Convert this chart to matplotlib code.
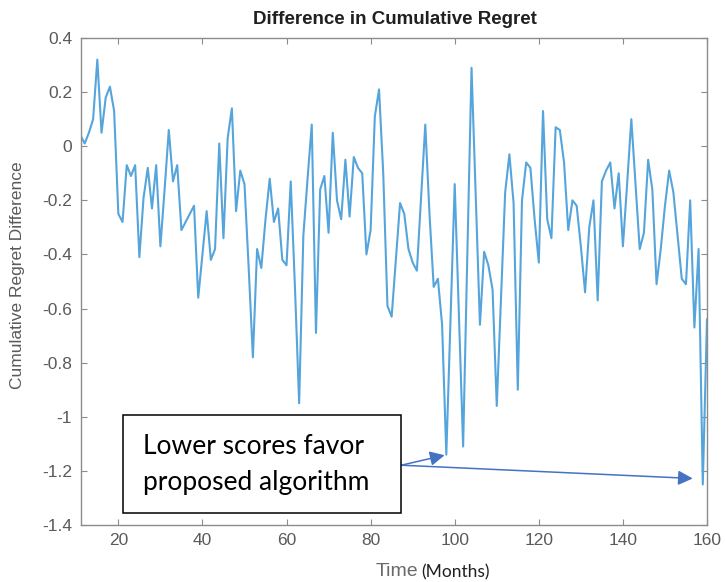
import matplotlib
matplotlib.use("Agg")
import matplotlib.pyplot as plt
from matplotlib.patches import Rectangle

# ---- data ----
months = list(range(11, 161))
regret_diff = [
    0.04, 0.01, 0.05, 0.10, 0.32, 0.05, 0.18, 0.22, 0.13, -0.25,
    -0.28, -0.07, -0.11, -0.07, -0.41, -0.19, -0.08, -0.23, -0.07, -0.37,
    -0.16, 0.06, -0.13, -0.07, -0.31, -0.28, -0.25, -0.22, -0.56, -0.40,
    -0.24, -0.42, -0.38, 0.01, -0.34, 0.03, 0.14, -0.24, -0.09, -0.14,
    -0.45, -0.78, -0.38, -0.45, -0.27, -0.12, -0.28, -0.23, -0.42, -0.44,
    -0.13, -0.52, -0.95, -0.33, -0.12, 0.08, -0.69, -0.16, -0.11, -0.32,
    0.05, -0.20, -0.27, -0.05, -0.26, -0.04, -0.08, -0.10, -0.40, -0.31,
    0.11, 0.21, -0.10, -0.59, -0.63, -0.42, -0.21, -0.25, -0.38, -0.43,
    -0.46, -0.19, 0.08, -0.25, -0.52, -0.49, -0.66, -1.14, -0.64, -0.14,
    -0.62, -1.11, -0.40, 0.29, -0.19, -0.66, -0.39, -0.44, -0.53, -0.96,
    -0.56, -0.17, -0.03, -0.21, -0.90, -0.20, -0.06, -0.08, -0.27, -0.43,
    0.13, -0.27, -0.34, 0.07, 0.06, -0.06, -0.31, -0.20, -0.22, -0.37,
    -0.54, -0.30, -0.20, -0.57, -0.13, -0.09, -0.06, -0.23, -0.10, -0.37,
    -0.14, 0.10, -0.14, -0.38, -0.32, -0.05, -0.16, -0.51, -0.38, -0.22,
    -0.09, -0.17, -0.33, -0.49, -0.51, -0.20, -0.67, -0.38, -1.25, -0.64,
]
x_ticks = [20, 40, 60, 80, 100, 120, 140, 160]
y_ticks = [-1.4, -1.2, -1.0, -0.8, -0.6, -0.4, -0.2, 0.0, 0.2, 0.4]
y_tick_labels = ["-1.4", "-1.2", "-1", "-0.8", "-0.6", "-0.4", "-0.2", "0", "0.2", "0.4"]
title = "Difference in Cumulative Regret"
ylabel = "Cumulative Regret Difference"
note = ["Lower scores favor", "proposed algorithm"]
arrow_start = (87.3, -1.179)
arrow_targets = [(97.6, -1.142), (156.6, -1.228)]

W, H = 725, 582
fig = plt.figure(figsize=(W / 100, H / 100), dpi=100)
ax = fig.add_axes([80.5 / W, 1 - 525 / H, (707 - 80.5) / W, (525 - 38) / H])

ax.plot(months, regret_diff, color="#55a5dc", lw=1.5, zorder=2)
ax.set_xlim(11, 160)
ax.set_ylim(-1.4, 0.4)
ax.set_xticks(x_ticks)
ax.set_xticklabels([str(t) for t in x_ticks])
ax.set_yticks(y_ticks)
ax.set_yticklabels(y_tick_labels)

grey = "#5a5a5a"
for s in ax.spines.values():
    s.set_color("#8c8c8c")
    s.set_linewidth(1.0)
ax.tick_params(direction="in", length=4, width=0.8, color="#8c8c8c",
               top=True, right=True, labelcolor=grey, labelsize=12.5, pad=6)
for lab in ax.get_xticklabels() + ax.get_yticklabels():
    lab.set_fontfamily("Liberation Sans")

fig.text(395 / W, 1 - 20 / H, title, ha="center", va="center",
         fontsize=13.5, fontweight="bold", family="Liberation Sans", color="#202020")
fig.text(18 / W, 1 - 275 / H, ylabel, rotation=90, ha="center", va="center",
         fontsize=12.5, family="Liberation Sans", color=grey)
fig.text(418 / W, 1 - 572 / H, "Time", ha="right", va="center",
         fontsize=14, family="Liberation Sans", color="#6a6a6a")
fig.text(421 / W, 1 - 572 / H, "(Months)", ha="left", va="center",
         fontsize=12.5, family="Lato", color="#202020")

# note box
fig.patches.append(Rectangle((122.5 / W, 1 - 512.5 / H), 278.5 / W, 97.5 / H,
                             transform=fig.transFigure, facecolor="white",
                             edgecolor="black", lw=1.1, zorder=5))
fig.text(143 / W, 1 - 454 / H, note[0], ha="left", va="baseline",
         fontsize=19, family="Lato", color="black", zorder=6)
fig.text(143 / W, 1 - 490 / H, note[1], ha="left", va="baseline",
         fontsize=19, family="Lato", color="black", zorder=6)

for tgt in arrow_targets:
    ax.annotate("", xy=tgt, xytext=arrow_start, xycoords="data", textcoords="data",
                annotation_clip=False,
                arrowprops=dict(arrowstyle="-|>", color="#4472C4", lw=1.1,
                                mutation_scale=22, shrinkA=0, shrinkB=0))

fig.savefig("out.png", dpi=100)
